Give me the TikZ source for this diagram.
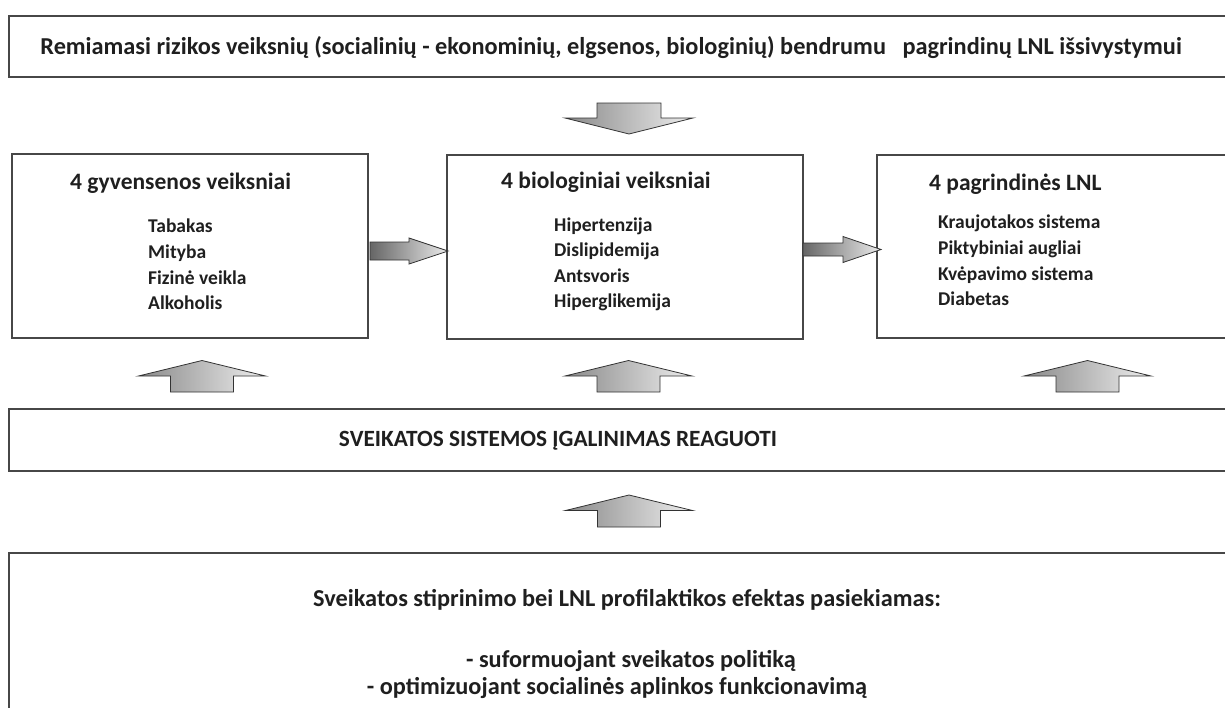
\documentclass[tikz,border=0pt]{standalone}
\usepackage{fontspec}
\setmainfont{Carlito}
\usetikzlibrary{calc}
\tikzset{
  box/.style={draw=black!72, line width=1.2pt, fill=white},
  ttl/.style={inner sep=0pt, anchor=base west, font=\bfseries\fontsize{23.5}{26}\selectfont, text=black!88},
  itm/.style={inner sep=0pt, anchor=base west, font=\bfseries\fontsize{19.5}{22}\selectfont, text=black!88},
  big/.style={inner sep=0pt, anchor=base, font=\bfseries\fontsize{24.3}{27}\selectfont, text=black!88},
  blk/.style={left color=black!46, right color=black!7, draw=black!80, line width=0.8pt, line join=miter},
  blkh/.style={left color=black!60, right color=black!8, draw=black!80, line width=0.8pt, line join=miter},
}
% horizontal block arrow: start, tip, half shaft, half head, head length
\newcommand\blkright[5]{\shade[blkh] let \p1=(#1), \p2=(#2) in
  (\x1,\y1+#3) -- (\x2-#5,\y1+#3) -- (\x2-#5,\y1+#4) -- (\x2,\y1) -- (\x2-#5,\y1-#4) -- (\x2-#5,\y1-#3) -- (\x1,\y1-#3) -- cycle;}
% upward block arrow: start (bottom), tip (top)
\newcommand\blkup[5]{\shade[blk] let \p1=(#1), \p2=(#2) in
  (\x1-#3,\y1) -- (\x1-#3,\y2-#5) -- (\x1-#4,\y2-#5) -- (\x1,\y2) -- (\x1+#4,\y2-#5) -- (\x1+#3,\y2-#5) -- (\x1+#3,\y1) -- cycle;}
% downward block arrow: start (top), tip (bottom)
\newcommand\blkdown[5]{\shade[blk] let \p1=(#1), \p2=(#2) in
  (\x1-#3,\y1) -- (\x1-#3,\y2+#5) -- (\x1-#4,\y2+#5) -- (\x1,\y2) -- (\x1+#4,\y2+#5) -- (\x1+#3,\y2+#5) -- (\x1+#3,\y1) -- cycle;}
\begin{document}
\begin{tikzpicture}[x=1pt,y=-1pt]
\path[use as bounding box, clip] (0,0) rectangle (1225,707);
\fill[white] (0,0) rectangle (1225,707);

% boxes
\draw[box] (9,16) rectangle (1240,77);
\draw[box] (12,154) rectangle (368,338);
\draw[box] (447,155) rectangle (803,339);
\draw[box] (877,155) rectangle (1240,338);
\draw[box] (9,409) rectangle (1240,471);
\draw[box] (9,553) rectangle (1240,730);

% top text
\node[big] (top) at (611,54) {Remiamasi rizikos veiksnių (socialinių - ekonominių, elgsenos, biologinių) bendrumu \ \ pagrindinų LNL išsivystymui};

% left box
\node[ttl] (gt) at (70,189) {4 gyvensenos veiksniai};
\node[itm] (g1) at (148,232) {Tabakas};
\node[itm] (g2) at (148,258) {Mityba};
\node[itm] (g3) at (148,284) {Fizinė veikla};
\node[itm] (g4) at (148,309) {Alkoholis};

% middle box
\node[ttl] (bt) at (501,188) {4 biologiniai veiksniai};
\node[itm] (b1) at (554,231) {Hipertenzija};
\node[itm] (b2) at (554,256) {Dislipidemija};
\node[itm] (b3) at (554,282) {Antsvoris};
\node[itm] (b4) at (554,307) {Hiperglikemija};

% right box
\node[ttl] (pt) at (929,190) {4 pagrindinės LNL};
\node[itm] (p1) at (938,228) {Kraujotakos sistema};
\node[itm] (p2) at (938,254) {Piktybiniai augliai};
\node[itm] (p3) at (938,280) {Kvėpavimo sistema};
\node[itm] (p4) at (938,305) {Diabetas};

% system box
\node[big, font=\bfseries\fontsize{23.3}{26}\selectfont] (sv) at (558,446) {SVEIKATOS SISTEMOS ĮGALINIMAS REAGUOTI};

% bottom box
\node[big] (l1) at (627,606) {Sveikatos stiprinimo bei LNL profilaktikos efektas pasiekiamas:};
\node[big] (l2) at (631,667) {- suformuojant sveikatos politiką};
\node[big] (l3) at (617,694) {- optimizuojant socialinės aplinkos funkcionavimą};

% arrow end points
\coordinate (d0) at (629,103);  \coordinate (d1) at (629,134);
\coordinate (r1s) at (370,251); \coordinate (r1e) at (448,251);
\coordinate (r2s) at (803,249.5); \coordinate (r2e) at (881,249.5);
\coordinate (u1s) at (202,392); \coordinate (u1e) at (202,360.5);
\coordinate (u2s) at (628.5,392); \coordinate (u2e) at (628.5,360.5);
\coordinate (u3s) at (1087.5,392); \coordinate (u3e) at (1087.5,360.5);
\coordinate (u4s) at (629,527); \coordinate (u4e) at (629,495);

\blkdown{d0}{d1}{32pt}{64pt}{16pt}
\blkright{r1s}{r1e}{9pt}{13pt}{39pt}
\blkright{r2s}{r2e}{6.5pt}{13pt}{38pt}
\blkup{u1s}{u1e}{31.5pt}{63.5pt}{15.5pt}
\blkup{u2s}{u2e}{31.5pt}{63.5pt}{15.5pt}
\blkup{u3s}{u3e}{31.5pt}{63.5pt}{15.5pt}
\blkup{u4s}{u4e}{31.5pt}{63.5pt}{15.5pt}
\end{tikzpicture}
\end{document}
